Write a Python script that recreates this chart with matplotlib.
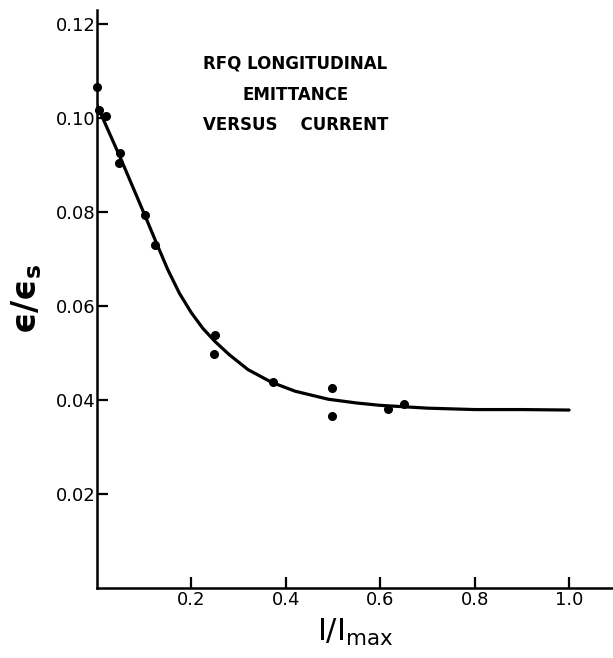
import matplotlib
matplotlib.use("Agg")
import matplotlib.pyplot as plt

# measured points (I/Imax, eps/eps_s)
pt_x = [0.0, 0.004, 0.019, 0.049, 0.047, 0.101, 0.123, 0.250, 0.248, 0.373, 0.498, 0.498, 0.617, 0.650]
pt_y = [0.1065, 0.1017, 0.1005, 0.0926, 0.0904, 0.0794, 0.0730, 0.0538, 0.0499, 0.0439, 0.0425, 0.0366, 0.0381, 0.0391]

# hand drawn fit curve
curve_x = [0.0, 0.05, 0.10, 0.125, 0.15, 0.175, 0.20, 0.225, 0.25, 0.28, 0.32,
           0.37, 0.42, 0.49, 0.55, 0.60, 0.70, 0.80, 0.90, 1.0]
curve_y = [0.1028, 0.0915, 0.0797, 0.0737, 0.0678, 0.0627, 0.0586, 0.0552, 0.0525, 0.0497, 0.0465,
           0.0438, 0.0419, 0.0402, 0.0394, 0.0389, 0.0383, 0.0380, 0.0380, 0.0379]

xticks = [0.2, 0.4, 0.6, 0.8, 1.0]
yticks = [0.02, 0.04, 0.06, 0.08, 0.10, 0.12]

fig = plt.figure(figsize=(6.13, 6.58), dpi=100)
ax = fig.add_axes([0.158, 0.106, 0.842, 0.879])

ax.plot(curve_x, curve_y, color="black", lw=2.3, solid_capstyle="round", solid_joinstyle="round")
ax.plot(pt_x, pt_y, "o", color="black", markersize=5.5, clip_on=False)

ax.set_xlim(0, 1.093)
ax.set_ylim(0, 0.123)
ax.set_xticks(xticks)
ax.set_xticklabels(["0.2", "0.4", "0.6", "0.8", "1.0"])
ax.set_yticks(yticks)
ax.set_yticklabels(["0.02", "0.04", "0.06", "0.08", "0.10", "0.12"])
ax.tick_params(direction="in", length=8, width=1.6, labelsize=13, pad=2)
ax.tick_params(axis="y", pad=1)

for s in ["top", "right"]:
    ax.spines[s].set_visible(False)
for s in ["left", "bottom"]:
    ax.spines[s].set_linewidth(1.8)

ax.set_xlabel(r"$\mathregular{I/I_{max}}$", fontsize=22, labelpad=6)
ax.set_ylabel("\u03f5/\u03f5$_\\mathregular{s}$", fontsize=24, fontweight="bold", labelpad=8)

ax.text(0.42, 0.1050, "RFQ LONGITUDINAL\nEMITTANCE\nVERSUS    CURRENT",
        ha="center", va="center", fontsize=12, fontweight="bold", linespacing=1.9)

fig.savefig("out.png", dpi=100)
